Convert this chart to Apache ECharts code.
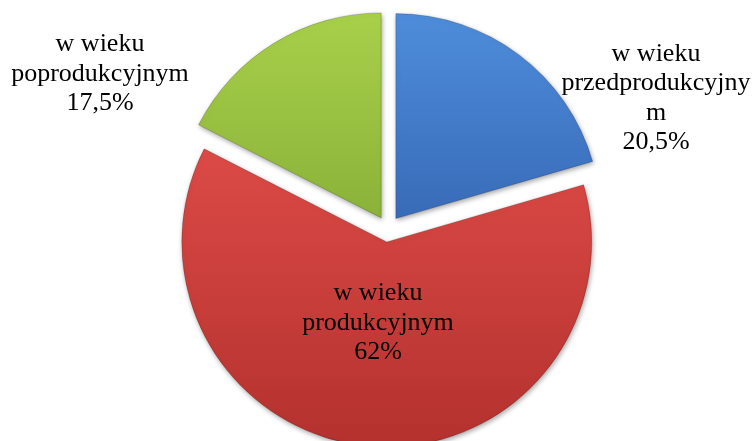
<!DOCTYPE html>
<html>
<head>
<meta charset="utf-8">
<script src="https://cdn.jsdelivr.net/npm/echarts@6/dist/echarts.min.js"></script>
<style>
    html, body { margin: 0; padding: 0; background: #fff; }
    #chart { width: 754px; height: 441px; }
</style>
</head>
<body>
<div id="chart"></div>
<script>
    // dane
    const categories = ['w wieku\nprzedprodukcyjny\nm', 'w wieku\nprodukcyjnym', 'w wieku\npoprodukcyjnym'];
    const values = [20.5, 62, 17.5];
    const colorsTop = ['#4e8ddb', '#dc4a46', '#a9d04a'];
    const colorsBottom = ['#386bb8', '#b3312e', '#8ab239'];
    // label anchors (centre of each text block)
    const labelPos = [[656, 98], [378, 323], [100, 74]];

    const chart = echarts.init(document.getElementById('chart'));

    const data = categories.map(function (name, i) {
        return {
            name: name,
            value: values[i],
            selected: true,
            itemStyle: {
                color: new echarts.graphic.LinearGradient(0, 0, 0, 1, [
                    {offset: 0, color: colorsTop[i]},
                    {offset: 1, color: colorsBottom[i]}
                ])
            }
        };
    });

    const labels = categories.map(function (name, i) {
        return {
            type: 'text',
            x: labelPos[i][0],
            y: labelPos[i][1],
            z: 100,
            silent: true,
            style: {
                text: name + '\n' + String(values[i]).replace('.', ',') + '%',
                fill: '#000',
                fontFamily: 'Liberation Serif',
                fontSize: 26,
                lineHeight: 29.5,
                align: 'center',
                verticalAlign: 'middle'
            }
        };
    });

    chart.setOption({
        backgroundColor: '#fff',
        animation: false,
        series: [{
            type: 'pie',
            center: [388, 229],
            radius: 205,
            startAngle: 90,
            clockwise: true,
            selectedMode: 'multiple',
            selectedOffset: 13,
            data: data,
            itemStyle: {
                borderColor: 'rgba(0,0,0,0.18)',
                borderWidth: 1,
                shadowBlur: 5,
                shadowColor: 'rgba(0,0,0,0.35)',
                shadowOffsetX: 1,
                shadowOffsetY: 2
            },
            emphasis: { disabled: true },
            labelLine: { show: false },
            label: { show: false }
        }],
        graphic: labels
    });
</script>
</body>
</html>
